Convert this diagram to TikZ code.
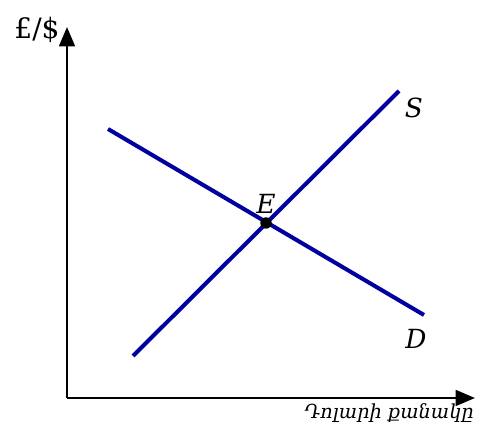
\documentclass[tikz,border=0pt]{standalone}
\usepackage{fontspec}
\setmainfont{DejaVu Serif}
\newfontfamily\armfont[Script=Armenian]{DejaVu Serif}
\usetikzlibrary{arrows.meta, positioning}

\begin{document}
\begin{tikzpicture}[
  x=0.02cm, y=-0.02cm,
  axis/.style={-{Triangle[length=11pt,width=9pt]}, line width=1.2pt},
  curve/.style={line width=2.3pt, draw={rgb,255:red,0;green,0;blue,160}},
  lbl/.style={font=\fontsize{15}{18}\selectfont\itshape, inner sep=0pt}
]
  \useasboundingbox (0,0) rectangle (477,431);
  % axes
  \coordinate (o)  at (67,398);
  \coordinate (yt) at (67,27);
  \coordinate (xt) at (475,398);
  \draw[axis] (o) -- (yt);
  \draw[axis] (o) -- (xt);
  \node[inner sep=0pt, font=\fontsize{16}{18}\selectfont] (ylab) at (37,30) {£/\$};
  \node[inner sep=0pt, anchor=east, font=\fontsize{11}{13}\selectfont\armfont\itshape] (xlab) at (474,413) {Դոլարի քանակը};

  % supply and demand
  \coordinate (s1) at (133,356);
  \coordinate (s2) at (399,91);
  \coordinate (d1) at (108,129);
  \coordinate (d2) at (424,315);
  \draw[curve] (s1) -- (s2);
  \draw[curve] (d1) -- (d2);
  \node[lbl] (slab) at (414,108) {S};
  \node[lbl] (dlab) at (416,339) {D};

  % equilibrium
  \node[circle, fill=black, inner sep=0pt, minimum size=6.5pt] (e) at (266,223) {};
  \node[lbl, above=5pt of e.center, anchor=south] (elab) {E};
\end{tikzpicture}
\end{document}
